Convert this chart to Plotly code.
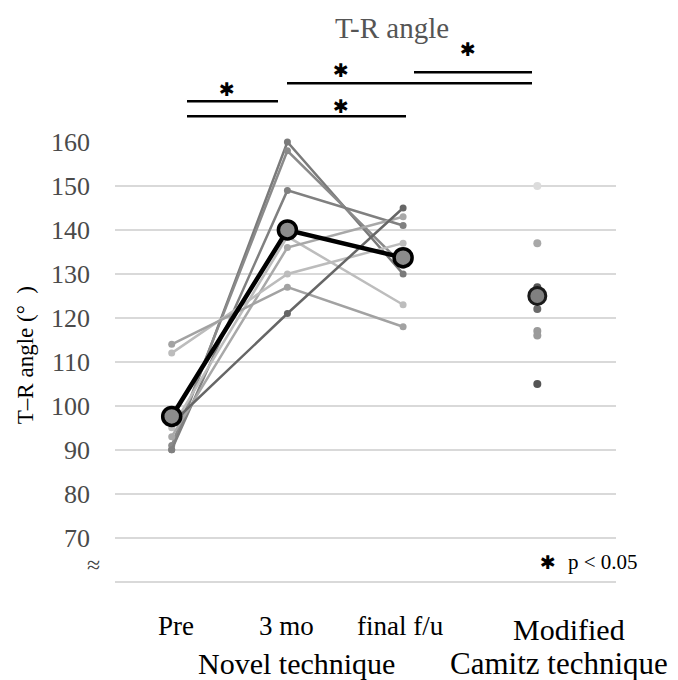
import plotly.graph_objects as go

# ---- data ----
time_labels = ["Pre", "3 mo", "final f/u"]
time_x = [0, 1, 2]
modified_x = 3.16

# individual patients (novel technique): Pre, 3 mo, final f/u
patients = [
    [90, 160, 130],
    [91, 158, 132],
    [90, 149, 141],
    [95, 138.5, 123],
    [93, 136, 143],
    [112, 130, 137],
    [114, 127, 118],
    [96, 121, 145],
]
patient_colors = ["#7a7a7a", "#8a8a8a", "#808080", "#bdbdbd",
                  "#a8a8a8", "#bcbcbc", "#a2a2a2", "#666666"]

novel_mean = [97.6, 140, 133.7]

modified_values = [150, 137, 127, 126, 122, 117, 116, 105]
modified_colors = ["#dcdcdc", "#a8a8a8", "#555555", "#5a5a5a",
                   "#6a6a6a", "#9a9a9a", "#9a9a9a", "#555555"]
modified_mean = 125

y_ticks = list(range(60, 161, 10))
y_ticktext = [""] + [str(v) for v in range(70, 161, 10)]

SERIF = "Liberation Serif, Times New Roman, serif"

fig = go.Figure()

for vals, col in zip(patients, patient_colors):
    fig.add_trace(go.Scatter(
        x=time_x, y=vals, mode="lines+markers",
        line=dict(color=col, width=2.5),
        marker=dict(color=col, size=7),
        cliponaxis=False, showlegend=False, hoverinfo="skip"))

fig.add_trace(go.Scatter(
    x=[modified_x] * len(modified_values), y=modified_values, mode="markers",
    marker=dict(color=modified_colors, size=8),
    cliponaxis=False, showlegend=False))

fig.add_trace(go.Scatter(
    x=time_x, y=novel_mean, mode="lines+markers",
    line=dict(color="black", width=4.5),
    marker=dict(color="#8c8c8c", size=18, line=dict(color="black", width=3.5)),
    cliponaxis=False, showlegend=False))

fig.add_trace(go.Scatter(
    x=[modified_x], y=[modified_mean], mode="markers",
    marker=dict(color="#808080", size=17, line=dict(color="#1a1a1a", width=3)),
    cliponaxis=False, showlegend=False))

# ---- layout (screen coordinates; page body has 8px offset) ----
OFF = 8
SW, SH = 678, 680
plot_left, plot_right = 115, 616          # screen px
plot_top, plot_bottom = 141.7, 583.9      # screen px (160 .. 59.5)
yr = [59.5, 160]
xr = [-0.49, 3.84]

W, H = SW - OFF, SH - OFF
L = plot_left - OFF
R = W - (plot_right - OFF)
T = plot_top - OFF
B = H - (plot_bottom - OFF)
plot_h = plot_bottom - plot_top
plot_w = plot_right - plot_left

def py(ypx):
    return (plot_bottom - ypx) / plot_h

def px(xpx):
    return (xpx - plot_left) / plot_w

def dx(xpx):
    return xr[0] + px(xpx) * (xr[1] - xr[0])

fig.update_layout(
    width=W, height=H,
    margin=dict(l=L, r=R, t=T, b=B, autoexpand=False),
    paper_bgcolor="white", plot_bgcolor="white",
    font=dict(family=SERIF, color="black"),
    xaxis=dict(range=xr, showgrid=False, zeroline=False, showline=False,
               showticklabels=False, ticks=""),
    yaxis=dict(range=yr, tickvals=y_ticks, ticktext=y_ticktext,
               showgrid=True, gridcolor="#d9d9d9", gridwidth=1.5,
               zeroline=False, showline=False, ticks="",
               ticklabelstandoff=24,
               tickfont=dict(family=SERIF, size=26, color="#4a4a4a")),
)

# significance bars
bars = [
    (187, 278, 101),
    (187, 406, 116),
    (287, 532, 83),
    (414, 532, 72),
]
for x0, x1, y in bars:
    fig.add_shape(type="line", xref="x", yref="paper",
                  x0=dx(x0), x1=dx(x1), y0=py(y), y1=py(y),
                  line=dict(color="black", width=2.5))

stars = [(227, 89), (341, 106), (341, 70), (468, 49)]
for sx, sy in stars:
    fig.add_annotation(x=dx(sx), y=py(sy), xref="x", yref="paper",
                       xanchor="center", yanchor="middle",
                       text="✱", showarrow=False,
                       font=dict(family="DejaVu Sans", size=19, color="black"))

ann = [
    ("T-R angle", 392, 28, 29, "#555555"),
    ("Pre", 176, 626, 27, "black"),
    ("3 mo", 286, 626, 27, "black"),
    ("final f/u", 400, 626, 27, "black"),
    ("Modified", 569, 629, 30, "black"),
    ("Novel technique", 296, 663, 30, "black"),
    ("Camitz technique", 559, 663, 31, "black"),
]
for txt, x, y, s, c in ann:
    fig.add_annotation(x=dx(x), y=py(y), xref="x", yref="paper",
                       xanchor="center", yanchor="middle",
                       text=txt, showarrow=False,
                       font=dict(family=SERIF, size=s, color=c))

fig.add_annotation(x=px(25), y=py(355), xref="paper", yref="paper",
                   xanchor="center", yanchor="middle",
                   text="T–R angle (°  )", textangle=-90, showarrow=False,
                   font=dict(family=SERIF, size=23, color="black"))

fig.add_annotation(x=px(93), y=py(565), xref="paper", yref="paper",
                   xanchor="center", yanchor="middle",
                   text="≈", showarrow=False,
                   font=dict(family=SERIF, size=24, color="#444444"))

fig.add_annotation(x=dx(548), y=py(562), xref="x", yref="paper",
                   xanchor="center", yanchor="middle",
                   text="✱", showarrow=False,
                   font=dict(family="DejaVu Sans", size=19, color="black"))
fig.add_annotation(x=dx(566), y=py(562), xref="x", yref="paper",
                   xanchor="left", yanchor="middle",
                   text="p < 0.05", showarrow=False,
                   font=dict(family=SERIF, size=21, color="black"))

fig.write_html("out.html")
